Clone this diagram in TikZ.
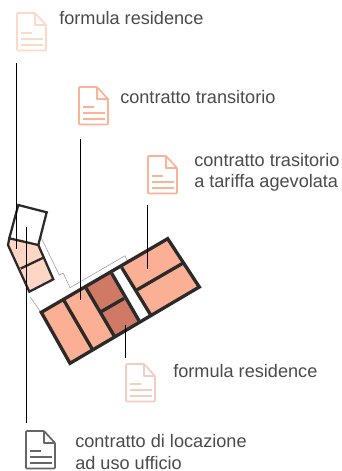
\documentclass[tikz,border=0pt]{standalone}
\usepackage{fontspec}
\setmainfont{Liberation Sans}
\definecolor{sal}{HTML}{FBAF94}
\definecolor{dark}{HTML}{D07A66}
\definecolor{pale}{HTML}{FDD6C6}
\definecolor{wall}{HTML}{2B2A29}
\definecolor{ink}{HTML}{4A4A4A}
\definecolor{ic1}{HTML}{FDD9CA}
\definecolor{ic2}{HTML}{FBB297}
\definecolor{ic3}{HTML}{F3CDBF}
\definecolor{ic4}{HTML}{666666}
\tikzset{
 wallline/.style={draw=wall,line width=2.5pt,line join=miter},
 thinwall/.style={draw=wall,line width=1.7pt},
 leader/.style={draw=black,line width=0.75pt},
 ghost/.style={draw=gray!80,line width=0.4pt},
 lab/.style={anchor=west,align=left,inner sep=0pt,text=ink,font=\fontsize{13.6}{16}\selectfont},
 pics/docicon/.style={code={
  \draw[#1,line width=1.3pt,line join=round,rounded corners=0.6pt,fill=white] (0,0) -- (18,0) -- (29,12) -- (29,37.5) -- (0,37.5) -- cycle;
  \draw[#1,line width=1.3pt,line join=round] (18,0) -- (18,12) -- (29,12);
  \draw[#1,line width=1.3pt] (4,20) -- (15,20) (4,26) -- (26,26) (4,32) -- (26,32);
 }}
}
\begin{document}
\begin{tikzpicture}[x=0.75pt,y=-0.75pt]
\useasboundingbox (0,0) rectangle (342,471);
% ghost walls
\draw[ghost] (30,296.7) -- (41.7,313.3);
\draw[ghost] (40.7,236.7) -- (59.3,275) -- (63.3,273.3) -- (70,287.7) -- (125,255.7) -- (127.7,261.7);
% left wing
\draw[thinwall,fill=pale] (9.3,238.3) -- (8,245) -- (29.3,291.7) -- (53.3,279.3) -- (38.3,245) -- cycle;
\draw[thinwall] (20.7,268.5) -- (43.3,257.7);
\draw[thinwall] (9.3,238.3) -- (18.3,205) -- (46.7,212.3) -- (38.3,245);
% main block
\fill[sal] (41.3,312.3) -- (167.7,238.7) -- (199.3,287) -- (70,363.3) -- cycle;
\fill[dark] (86,285) -- (111.7,273.3) -- (139,320.7) -- (114.5,337) -- cycle;
\fill[white] (111.7,273.3) -- (123.3,266.7) -- (150.7,313.3) -- (139,320.7) -- cycle;
\draw[wallline] (41.3,312.3) -- (167.7,238.7) -- (199.3,287) -- (70,363.3) -- cycle;
\draw[wallline] (64,300.5) -- (92.5,349.5);
\draw[wallline] (86,288) -- (114.5,336.5);
\draw[wallline] (111.7,273.3) -- (139,320.7);
\draw[wallline] (121.7,267.5) -- (150.7,315);
\draw[wallline] (100.5,312) -- (124,298.5);
\draw[wallline] (136.7,290) -- (182.7,263.3);
% leaders
\coordinate (l1a) at (16.5,63); \coordinate (l1b) at (16.5,249);
\coordinate (l2a) at (80.5,139); \coordinate (l2b) at (80.5,300);
\coordinate (l3a) at (147.5,205); \coordinate (l3b) at (147.5,269);
\coordinate (l4a) at (125.5,325); \coordinate (l4b) at (125.5,358);
\coordinate (l5a) at (26.5,227); \coordinate (l5b) at (26.5,423);
\draw[leader] (l1a) -- (l1b);
\draw[leader] (l2a) -- (l2b);
\draw[leader] (l3a) -- (l3b);
\draw[leader] (l4a) -- (l4b);
\draw[leader] (l5a) -- (l5b);
% icons
\pic at (17,13) {docicon=ic1};
\pic at (79,87) {docicon=ic2};
\pic at (148,156) {docicon=ic2};
\pic at (126,364) {docicon=ic3};
\pic at (26,431) {docicon=ic4};
% labels
\node[lab] (t1) at (59,18) {formula residence};
\node[lab] (t2) at (120,97) {contratto transitorio};
\node[lab] (t3) at (194,172) {contratto trasitorio\\a tariffa agevolata};
\node[lab] (t4) at (173,371) {formula residence};
\node[lab] (t5) at (75,452) {contratto di locazione\\ad uso ufficio};
\end{tikzpicture}
\end{document}
